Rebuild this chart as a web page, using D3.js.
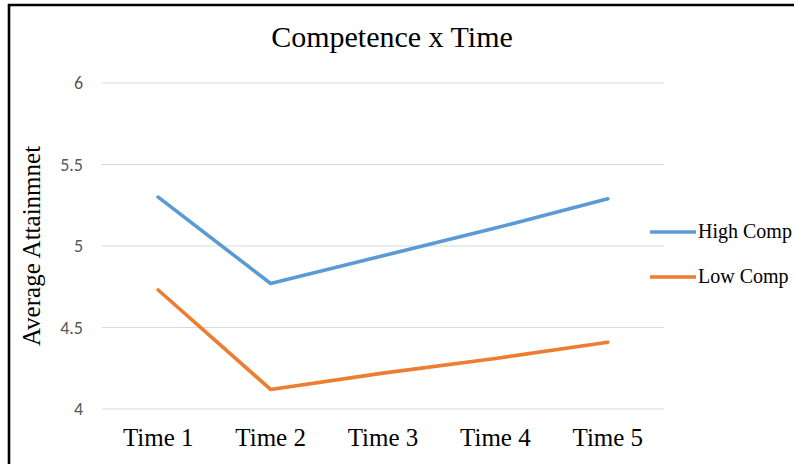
<!DOCTYPE html>
<html>
<head>
<meta charset="utf-8">
<script src="https://cdn.jsdelivr.net/npm/d3@7"></script>
<style>
  html, body { margin: 0; padding: 0; background: #fff; }
  svg { display: block; }
</style>
</head>
<body>
<svg id="chart" width="794" height="464"></svg>
<script>
// Average attainment by competence group across five time points
const times = ["Time 1", "Time 2", "Time 3", "Time 4", "Time 5"];
const highComp = [5.30, 4.77, 4.94, 5.11, 5.29];
const lowComp = [4.73, 4.12, 4.22, 4.31, 4.41];
const yTicks = [4, 4.5, 5, 5.5, 6];
const seriesNames = ["High Comp", "Low Comp"];
const seriesColors = ["#5b9bd5", "#ed7d31"];

const series = [
  { name: seriesNames[0], values: highComp, color: seriesColors[0] },
  { name: seriesNames[1], values: lowComp, color: seriesColors[1] }
];

const serif = "'Liberation Serif', 'Times New Roman', serif";
const svg = d3.select("#chart");
const plot = { left: 102, right: 664, top: 83, bottom: 409 };

const x = d3.scaleBand().domain(times).range([plot.left, plot.right]);
const y = d3.scaleLinear().domain([4, 6]).range([plot.bottom, plot.top]);

// frame
svg.append("path")
  .attr("d", "M9,464 V5 H794")
  .attr("fill", "none")
  .attr("stroke", "#000")
  .attr("stroke-width", 2.6);

// title
svg.append("text")
  .attr("x", 392).attr("y", 47)
  .attr("text-anchor", "middle")
  .attr("font-family", serif)
  .attr("font-size", 30)
  .attr("fill", "#000")
  .text("Competence x Time");

// horizontal gridlines + y tick labels
const yAxis = d3.axisLeft(y).tickValues(yTicks).tickSize(0).tickPadding(19)
  .tickFormat(d3.format("~g"));
const gy = svg.append("g").attr("transform", `translate(${plot.left},0)`).call(yAxis);
gy.select(".domain").remove();
gy.selectAll("text")
  .attr("font-family", "Carlito, 'Open Sans', 'Liberation Sans', sans-serif")
  .attr("font-size", 18)
  .attr("fill", "#595959");

svg.append("g").selectAll("line")
  .data(yTicks)
  .join("line")
  .attr("x1", plot.left).attr("x2", plot.right)
  .attr("y1", d => y(d)).attr("y2", d => y(d))
  .attr("stroke", "#d9d9d9")
  .attr("stroke-width", 1);

// x axis labels
const xAxis = d3.axisBottom(x).tickSize(0).tickPadding(19);
const gx = svg.append("g").attr("transform", `translate(0,${plot.bottom})`).call(xAxis);
gx.select(".domain").remove();
gx.selectAll("text")
  .attr("font-family", serif)
  .attr("font-size", 25)
  .attr("fill", "#000");

// y axis title
svg.append("text")
  .attr("transform", `translate(40,246) rotate(-90)`)
  .attr("text-anchor", "middle")
  .attr("font-family", serif)
  .attr("font-size", 25)
  .attr("fill", "#000")
  .text("Average Attainmnet");

// series lines
const line = d3.line()
  .x((d, i) => x(times[i]) + x.bandwidth() / 2)
  .y(d => y(d));

svg.append("g").selectAll("path")
  .data(series)
  .join("path")
  .attr("d", d => line(d.values))
  .attr("fill", "none")
  .attr("stroke", d => d.color)
  .attr("stroke-width", 3.6)
  .attr("stroke-linejoin", "round")
  .attr("stroke-linecap", "round");

// legend
const legend = svg.append("g").selectAll("g")
  .data(series)
  .join("g")
  .attr("transform", (d, i) => `translate(650,${232 + i * 45})`);
legend.append("line")
  .attr("x1", 0).attr("x2", 46)
  .attr("stroke", d => d.color)
  .attr("stroke-width", 3.6);
legend.append("text")
  .attr("x", 48).attr("y", 6)
  .attr("font-family", serif)
  .attr("font-size", 20)
  .attr("fill", "#000")
  .text(d => d.name);
</script>
</body>
</html>
